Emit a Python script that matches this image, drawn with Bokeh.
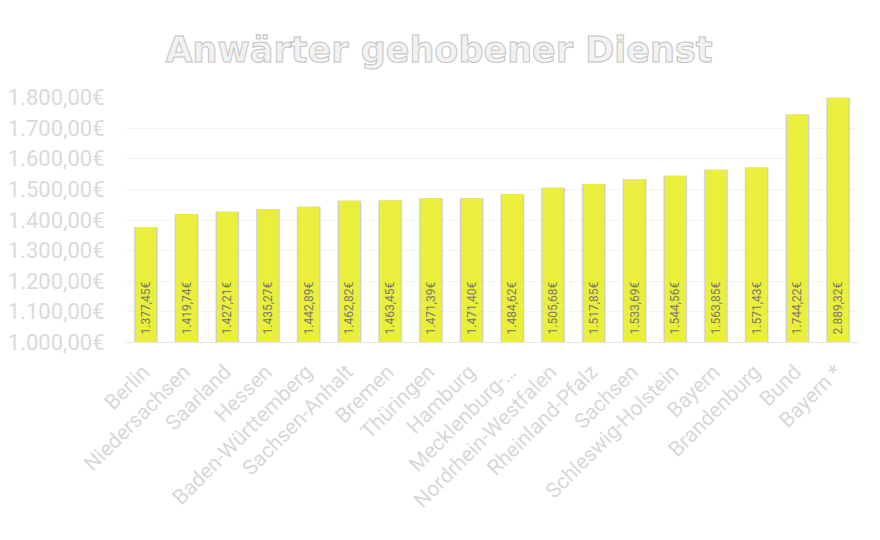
import math
from bokeh.plotting import figure
from bokeh.models import ColumnDataSource, FixedTicker, Range1d
from bokeh.core.properties import value
from bokeh.embed import file_html
from bokeh.resources import INLINE

# data
laender = ["Berlin", "Niedersachsen", "Saarland", "Hessen", "Baden-Württemberg",
           "Sachsen-Anhalt", "Bremen", "Thüringen", "Hamburg", "Mecklenburg-…",
           "Nordrhein-Westfalen", "Rheinland-Pfalz", "Sachsen", "Schleswig-Holstein",
           "Bayern", "Brandenburg", "Bund", "Bayern *"]
betrag = [1377.45, 1419.74, 1427.21, 1435.27, 1442.89, 1462.82, 1463.45, 1471.39,
          1471.40, 1484.62, 1505.68, 1517.85, 1533.69, 1544.56, 1563.85, 1571.43,
          1744.22, 2889.32]
y_ticks = [1000, 1100, 1200, 1300, 1400, 1500, 1600, 1700, 1800]


def euro(v):
    s = f"{v:,.2f}"
    return s.replace(",", "X").replace(".", ",").replace("X", ".") + "€"


src = ColumnDataSource(dict(
    land=laender,
    betrag=betrag,
    basis=[1000] * len(laender),
    label=[euro(v) for v in betrag],
))

p = figure(x_range=laender, y_range=Range1d(1000, 1800),
           width=864, height=524, output_backend="svg", toolbar_location=None,
           min_border_left=125, min_border_right=6, min_border_top=97,
           min_border_bottom=180)
p.outline_line_color = None
p.background_fill_color = "white"

# title
p.title.text = "Anwärter gehobener Dienst"
p.title.align = "left"
p.title.offset = 40
p.title.standoff = 55
p.title.text_font = "DejaVu Sans"
p.title.text_font_style = "bold"
p.title.text_font_size = "35px"
p.title.text_color = "#f2f2f2"
p.title.text_outline_color = "#c4c4c4"

# soft shadow behind the bars
p.vbar(x="land", top="betrag", bottom=1000, width=0.6, source=src,
       fill_color="#9a9a9a", fill_alpha=0.2, line_color=None)
p.vbar(x="land", top="betrag", bottom=1000, width=0.56, source=src,
       fill_color="#8a8a8a", fill_alpha=0.35, line_color=None)
p.vbar(x="land", top="betrag", bottom=1000, width=0.52, source=src,
       fill_color="#e9ef3c", line_color=None)

# values inside the bars
p.text(x="land", y="basis", text="label", source=src, angle=math.pi / 2,
       text_align="left", text_baseline="middle", y_offset=-8,
       text_font=value("Roboto"), text_font_size="12px", text_color="#7a7a6a")

# axes
p.yaxis.ticker = FixedTicker(ticks=y_ticks)
p.yaxis.major_label_overrides = {t: euro(t) for t in y_ticks}
p.yaxis.axis_line_color = None
p.yaxis.major_tick_line_color = None
p.yaxis.minor_tick_line_color = None
p.yaxis.major_label_text_font = "Roboto"
p.yaxis.major_label_text_font_size = "22px"
p.yaxis.major_label_text_color = "#dadada"
p.yaxis.major_label_standoff = 15

p.xaxis.axis_line_color = "#e6e6e6"
p.xaxis.major_tick_line_color = None
p.xaxis.major_label_orientation = math.pi / 4
p.xaxis.major_label_text_font = "Roboto"
p.xaxis.major_label_text_font_size = "21px"
p.xaxis.major_label_text_color = "#d8d8d8"
p.xaxis.major_label_standoff = 20

p.xgrid.grid_line_color = None
p.ygrid.grid_line_color = "#f4f4f4"

open("out.html", "w").write(file_html(p, INLINE))
